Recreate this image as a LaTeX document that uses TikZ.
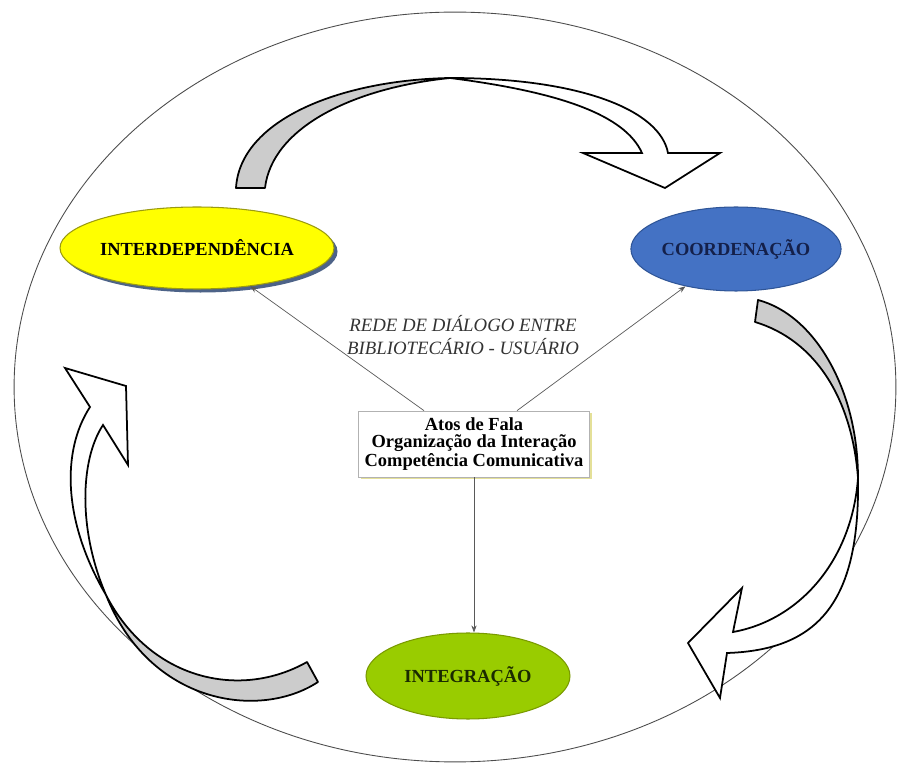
\documentclass[tikz,border=0pt]{standalone}
\usepackage{fontspec}
\setmainfont{Liberation Serif}
\usetikzlibrary{shapes.geometric,arrows.meta,shadows}

\definecolor{interfill}{HTML}{FFFF00}
\definecolor{interline}{HTML}{9A9A10}
\definecolor{coordfill}{HTML}{4472C4}
\definecolor{coordline}{HTML}{2F5597}
\definecolor{coordtext}{HTML}{14204A}
\definecolor{integfill}{HTML}{99CC00}
\definecolor{integline}{HTML}{7A9A00}
\definecolor{integtext}{HTML}{1A2A00}

\tikzset{
  phase/.style={ellipse, inner sep=0pt, line width=0.6pt, font=\fontsize{10.5}{12}\selectfont\bfseries},
  backface/.style={draw=black, line width=1pt, fill=gray!40, line join=round},
  frontface/.style={draw=black, line width=1pt, fill=white, line join=miter},
  link/.style={draw=black!65, line width=0.4pt, -{Stealth[length=4pt,width=3pt]}}
}

\begin{document}
\begin{tikzpicture}[x=0.02cm, y=-0.02cm]
  \useasboundingbox (0,0) rectangle (897,763);
  % outer ring
  \draw[black!70, line width=0.5pt] (455,387) ellipse [x radius=8.82cm, y radius=7.5cm];

  % top curved arrow
  \draw[backface] (236,188) .. controls (240,120) and (340,80) .. (450,78)
      .. controls (352,88) and (272,128) .. (265,188) -- cycle;
  \draw[frontface] (450,78) .. controls (580,78) and (660,110) .. (668,153)
      -- (720,153) -- (665,188) -- (583,153) -- (642,153)
      .. controls (625,115) and (560,92) .. (450,78) -- cycle;

  % right curved arrow
  \draw[backface] (758,300) .. controls (815,315) and (858,390) .. (858,478)
      .. controls (852,398) and (815,340) .. (755,322) -- cycle;
  \draw[frontface] (858,478) .. controls (860,600) and (820,650) .. (727,653)
      -- (720,698) -- (688,643) -- (742,588) -- (733,632)
      .. controls (800,620) and (852,560) .. (858,478) -- cycle;

  % left curved arrow
  \draw[backface] (318,682) .. controls (260,720) and (150,705) .. (106,595)
      .. controls (150,680) and (240,700) .. (307,662) -- cycle;
  \draw[frontface] (106,595) .. controls (62,520) and (62,450) .. (90,407)
      -- (65,368) -- (126,386) -- (128,465) -- (103,425)
      .. controls (80,460) and (78,530) .. (106,595) -- cycle;

  % phases
  \node[phase, fill=interfill, draw=interline, minimum width=4.48cm, minimum height=1.64cm,
        drop shadow={shadow xshift=2pt, shadow yshift=-2pt, fill=coordline!70!black, opacity=0.8}]
        (inter) at (197,248) {INTERDEPENDÊNCIA};
  \node[phase, fill=coordfill, draw=coordline, text=coordtext, minimum width=4.12cm, minimum height=1.68cm]
        (coord) at (736,249) {COORDENAÇÃO};
  \node[phase, fill=integfill, draw=integline, text=integtext, minimum width=4.08cm, minimum height=1.72cm]
        (integ) at (468,676) {INTEGRAÇÃO};

  % centre
  \node[draw=gray!60, fill=white, line width=0.4pt, minimum width=4.62cm, minimum height=1.32cm,
        inner sep=1pt, align=center, font=\fontsize{10.5}{9.6}\selectfont\bfseries,
        drop shadow={shadow xshift=1.2pt, shadow yshift=-1pt, fill=yellow!60!gray, opacity=0.6}]
        (acts) at (474,444) {Atos de Fala\\Organização da Interação\\Competência Comunicativa};
  \node[font=\fontsize{10.7}{13.6}\selectfont\itshape, text=black!80, align=center]
        (rede) at (463,335) {REDE DE DIÁLOGO ENTRE\\BIBLIOTECÁRIO - USUÁRIO};

  \draw[link] ([xshift=-1cm]acts.north) -- (inter);
  \draw[link] ([xshift=0.86cm]acts.north) -- (coord);
  \draw[link] (acts.south) -- (acts.south |- integ.north);
\end{tikzpicture}
\end{document}
